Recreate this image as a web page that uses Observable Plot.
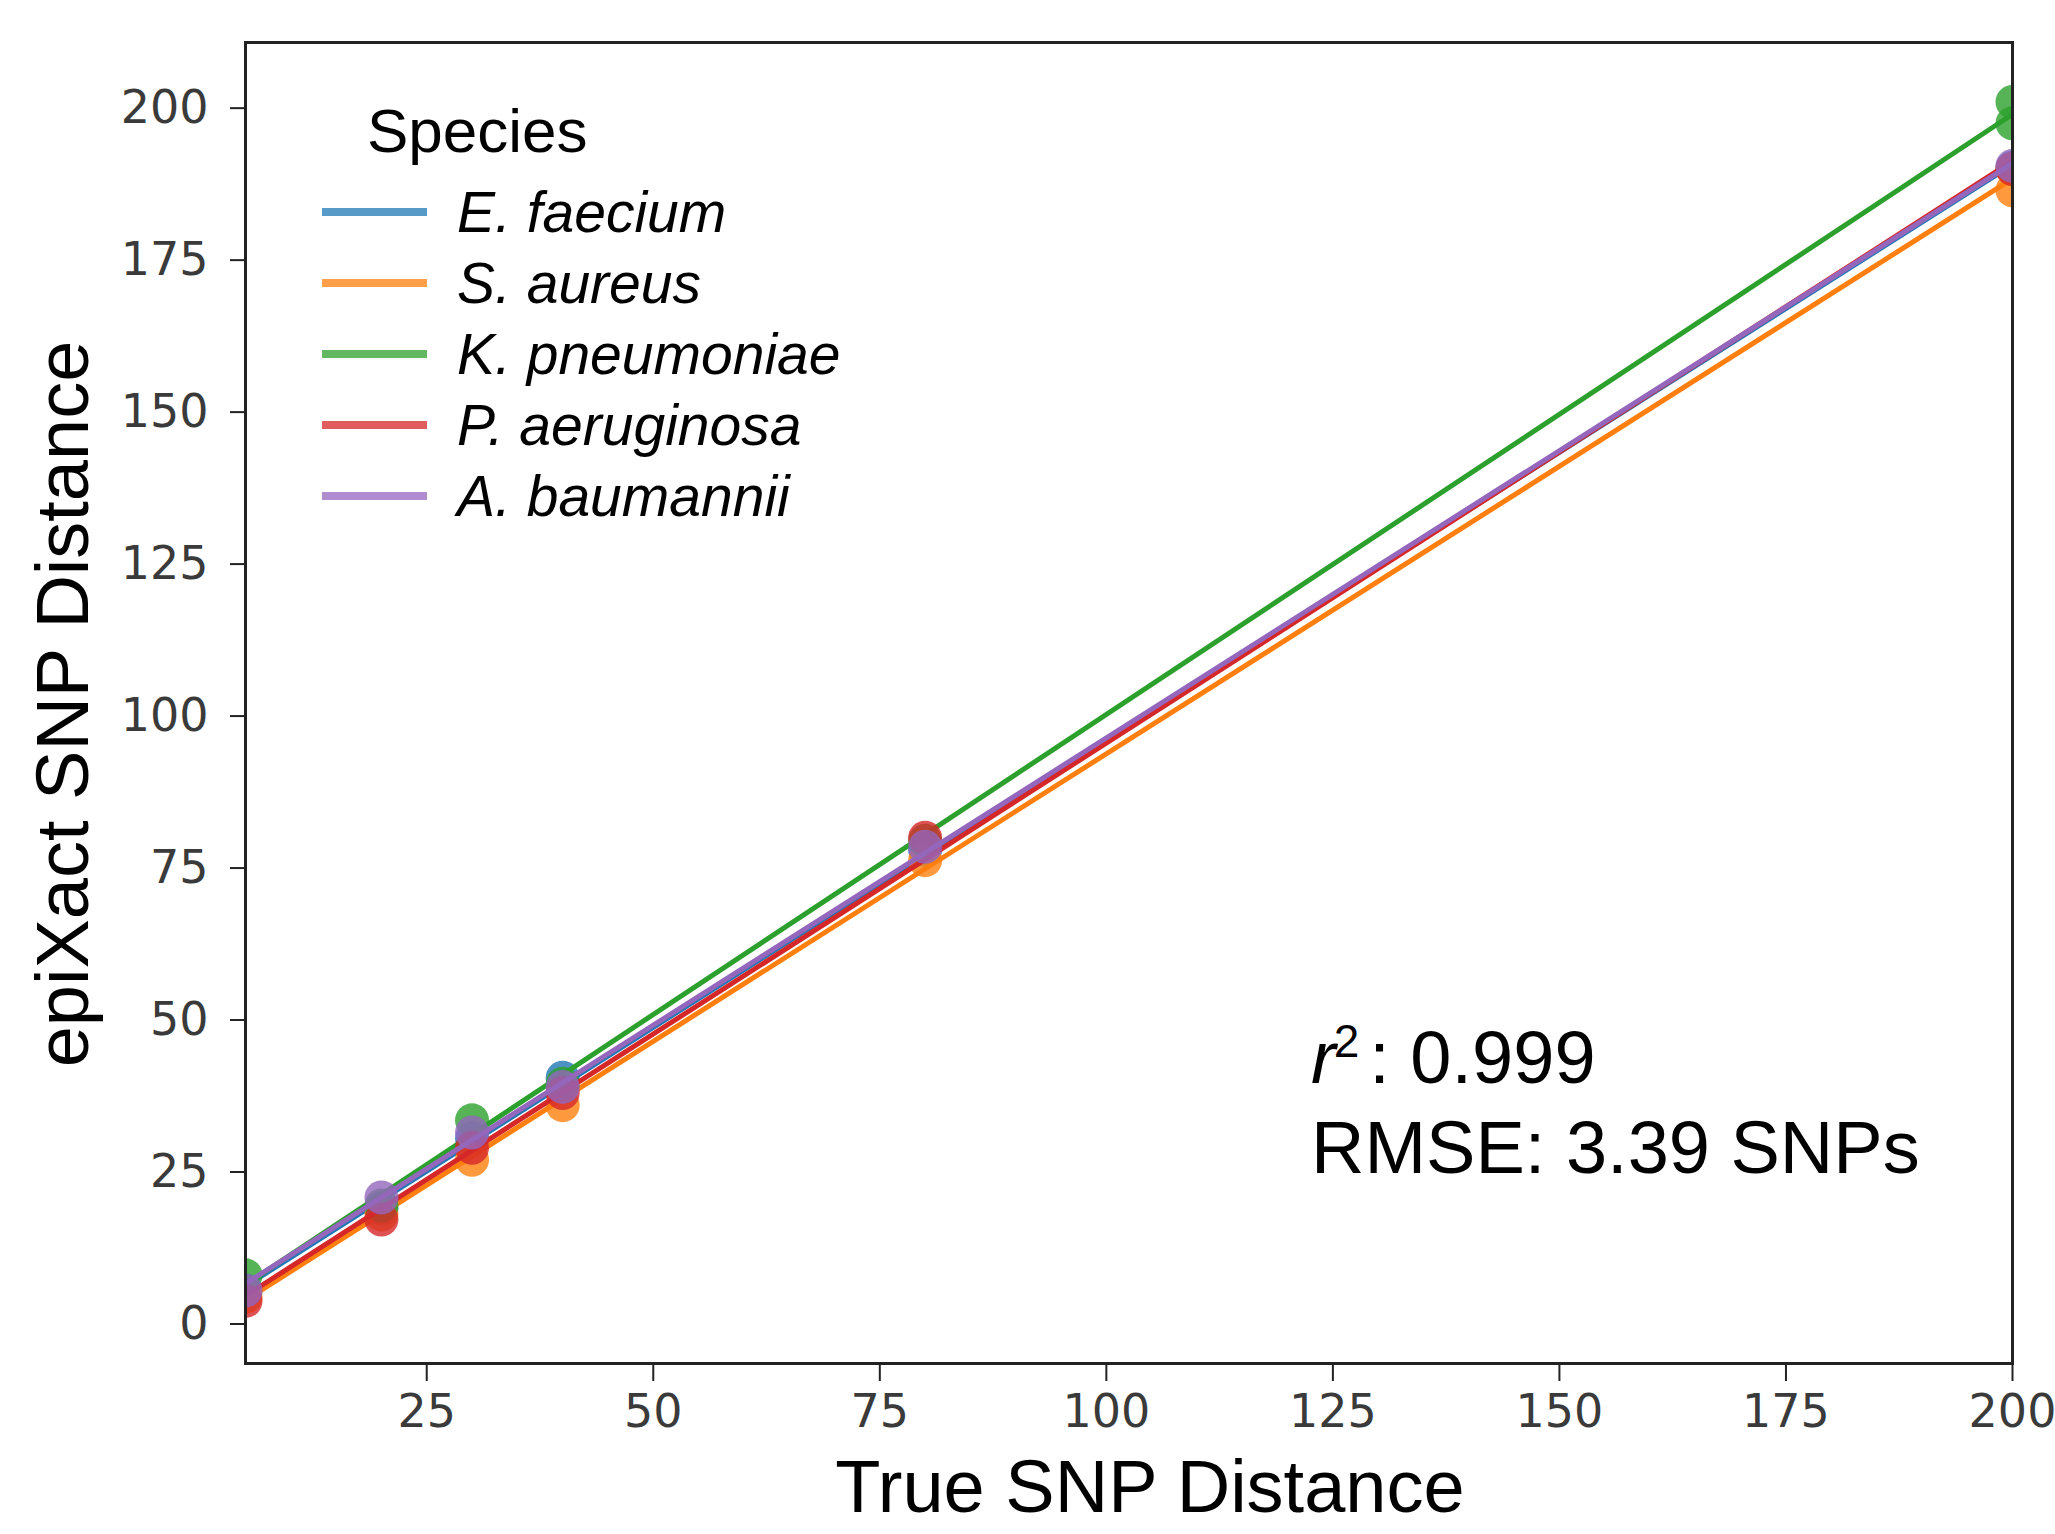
<!DOCTYPE html>
<html>
<head>
<meta charset="utf-8">
<script src="https://cdn.jsdelivr.net/npm/d3@7"></script>
<script src="https://cdn.jsdelivr.net/npm/@observablehq/plot@0.6"></script>
<style>
  html, body { margin: 0; padding: 0; background: #fff; }
  #chart svg { display: block; }
</style>
</head>
<body>
<div id="chart"></div>
<script>
// ---- Data ----
const species = ["E. faecium", "S. aureus", "K. pneumoniae", "P. aeruginosa", "A. baumannii"];
const speciesColors = ["#1f77b4", "#ff7f0e", "#2ca02c", "#d62728", "#9467bd"];

const eFaeciumX = [5, 20, 30, 40, 80, 200];
const eFaeciumY = [5.5, 19, 30.5, 40.5, 78, 190.2];
const sAureusX = [5, 20, 30, 40, 80, 200, 200];
const sAureusY = [4.5, 18, 27, 36, 76.3, 190, 186.5];
const kPneumoniaeX = [5, 20, 30, 40, 80, 200, 200];
const kPneumoniaeY = [8, 19.5, 33.5, 39.5, 79.5, 201, 197.5];
const pAeruginosaX = [5, 20, 30, 40, 80, 200];
const pAeruginosaY = [3.8, 17.2, 29, 38, 80, 190];
const aBaumanniiX = [5, 20, 30, 40, 80, 200];
const aBaumanniiY = [5.5, 20.8, 31.5, 39, 78.5, 190.5];

const xTicks = [25, 50, 75, 100, 125, 150, 175, 200];
const yTicks = [0, 25, 50, 75, 100, 125, 150, 175, 200];

const xLabel = "True SNP Distance";
const yLabel = "epiXact SNP Distance";
const legendTitle = "Species";
const r2Text = ": 0.999";
const rmseText = "RMSE: 3.39 SNPs";

// ---- Build table ----
const seriesX = [eFaeciumX, sAureusX, kPneumoniaeX, pAeruginosaX, aBaumanniiX];
const seriesY = [eFaeciumY, sAureusY, kPneumoniaeY, pAeruginosaY, aBaumanniiY];
const data = species.flatMap((s, i) => seriesX[i].map((x, j) => ({species: s, x, y: seriesY[i][j]})));

const W = 2055, H = 1534;

const perSpecies = species.flatMap((s) => {
  const d = data.filter(o => o.species === s);
  return [
    Plot.dot(d, {x: "x", y: "y", fill: "species", r: 17, fillOpacity: 0.8, stroke: null, clip: true}),
    Plot.linearRegressionY(d, {x: "x", y: "y", stroke: "species", ci: 0, strokeWidth: 5, clip: true})
  ];
});

const svg = Plot.plot({
  width: W,
  height: H,
  marginLeft: 245,
  marginRight: 43,
  marginTop: 42,
  marginBottom: 171,
  style: {fontFamily: "DejaVu Sans", background: "#fff"},
  x: {domain: [5, 200]},
  y: {domain: [-6.5, 210.8]},
  color: {domain: species, range: speciesColors},
  marks: [
    ...perSpecies,
    Plot.frame({stroke: "#222", strokeWidth: 3}),
    Plot.axisX({ticks: xTicks, tickSize: 18, tickPadding: 13, fontSize: 46, fill: "#3a3a3a", stroke: "#222", strokeWidth: 2, label: null}),
    Plot.axisY({ticks: yTicks, tickSize: 15, tickPadding: 22, fontSize: 46, fill: "#3a3a3a", stroke: "#222", strokeWidth: 2, label: null})
  ]
});

document.getElementById("chart").appendChild(svg);

// ---- Labels, legend, annotation ----
const s = d3.select(svg);
const sans = "'Liberation Sans', Arial, sans-serif";

s.append("text")
  .attr("x", 1150).attr("y", 1512)
  .attr("text-anchor", "middle")
  .attr("font-family", sans).attr("font-size", 74).attr("fill", "#000")
  .text(xLabel);

s.append("text")
  .attr("transform", "translate(88,704) rotate(-90)")
  .attr("text-anchor", "middle")
  .attr("font-family", sans).attr("font-size", 74).attr("fill", "#000")
  .text(yLabel);

const leg = s.append("g").attr("font-family", sans).attr("fill", "#000").attr("text-anchor", "start");
leg.append("text").attr("x", 367).attr("y", 152).attr("font-size", 62).text(legendTitle);
species.forEach((name, i) => {
  const cy = 212 + i * 71;
  leg.append("line")
    .attr("x1", 322).attr("x2", 427).attr("y1", cy).attr("y2", cy)
    .attr("stroke", speciesColors[i]).attr("stroke-width", 8).attr("stroke-opacity", 0.75);
  leg.append("text")
    .attr("x", 457).attr("y", cy + 20)
    .attr("font-size", 57).attr("font-style", "italic")
    .text(name);
});

const ann = s.append("text")
  .attr("x", 1311).attr("y", 1083)
  .attr("text-anchor", "start")
  .attr("font-family", sans).attr("font-size", 74).attr("fill", "#000");
ann.append("tspan").attr("font-style", "italic").text("r");
ann.append("tspan").attr("font-size", 46).attr("dy", -26).attr("dx", -2).text("2");
ann.append("tspan").attr("dy", 26).attr("dx", 10).text(r2Text);

s.append("text")
  .attr("x", 1311).attr("y", 1173)
  .attr("text-anchor", "start")
  .attr("font-family", sans).attr("font-size", 74).attr("fill", "#000")
  .text(rmseText);
</script>
</body>
</html>
